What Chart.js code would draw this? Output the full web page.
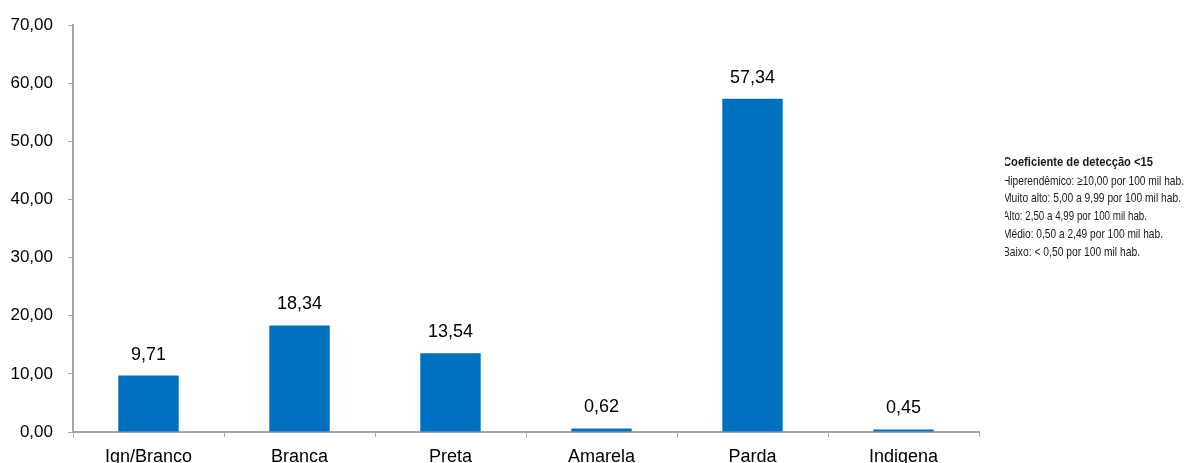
<!DOCTYPE html>
<html>
<head>
<meta charset="utf-8">
<script src="https://cdn.jsdelivr.net/npm/chart.js@4/dist/chart.umd.min.js"></script>
<style>
  html, body { margin: 0; padding: 0; background: #fff; }
  #wrap { width: 1184px; height: 463px; position: relative; }
</style>
</head>
<body>
<div id="wrap"><canvas id="c" width="1184" height="463"></canvas></div>
<script>
// Detection coefficient by race/colour
const categories = ['Ign/Branco', 'Branca', 'Preta', 'Amarela', 'Parda', 'Indigena'];
const values = [9.71, 18.34, 13.54, 0.62, 57.34, 0.45];
const yTicks = [0, 10, 20, 30, 40, 50, 60, 70];
const legendTitle = 'Coeficiente de detecção <15';
const legendLines = [
  'Hiperendêmico: ≥10,00 por 100 mil hab.',
  'Muito alto: 5,00 a 9,99 por 100 mil hab.',
  'Alto: 2,50 a 4,99 por 100 mil hab.',
  'Médio: 0,50 a 2,49 por 100 mil hab.',
  'Baixo: < 0,50 por 100 mil hab.'
];

const fmt = v => v.toFixed(2).replace('.', ',');
const AXIS = '#a6a6a6';
const FONT = 'Liberation Sans, Arial, sans-serif';

// value labels above each bar
const valueLabels = {
  id: 'valueLabels',
  afterDatasetsDraw(chart) {
    const ctx = chart.ctx;
    const meta = chart.getDatasetMeta(0);
    ctx.save();
    ctx.font = '18px ' + FONT;
    ctx.fillStyle = '#000';
    ctx.textAlign = 'center';
    ctx.textBaseline = 'middle';
    meta.data.forEach((bar, i) => {
      ctx.fillText(fmt(values[i]), bar.x, bar.y - 21);
    });
    ctx.restore();
  }
};

// classification note at the right
const noteBox = {
  id: 'noteBox',
  afterDraw(chart) {
    const ctx = chart.ctx;
    ctx.save();
    ctx.beginPath();
    ctx.rect(1005, 140, 179, 130);
    ctx.clip();
    ctx.fillStyle = '#1a1a1a';
    ctx.textBaseline = 'middle';
    ctx.textAlign = 'left';
    const x0 = 1003;
    const drawFit = (txt, y, font, w) => {
      ctx.font = font;
      const m = ctx.measureText(txt).width;
      ctx.save();
      ctx.translate(x0, y);
      ctx.scale(w / m, 1);
      ctx.fillText(txt, 0, 0);
      ctx.restore();
    };
    drawFit(legendTitle, 162, 'bold 13px ' + FONT, 150);
    const widths = [181, 178, 144, 160, 137];
    legendLines.forEach((t, i) => drawFit(t, 181 + i * 17.8, '13px ' + FONT, widths[i]));
    ctx.restore();
  }
};

new Chart(document.getElementById('c'), {
  type: 'bar',
  data: {
    labels: categories,
    datasets: [{
      data: values,
      backgroundColor: '#0070c0',
      borderWidth: 0,
      categoryPercentage: 1.0,
      barPercentage: 0.4
    }]
  },
  options: {
    responsive: false,
    animation: false,
    devicePixelRatio: 1,
    layout: { padding: { top: 22, right: 205, left: 0, bottom: 0 } },
    plugins: { legend: { display: false }, tooltip: { enabled: false } },
    scales: {
      x: {
        grid: { display: true, drawOnChartArea: false, tickLength: 5, color: AXIS, offset: true },
        border: { color: AXIS, width: 2 },
        ticks: { color: '#000', font: { size: 18, family: FONT }, padding: 9, maxRotation: 0 },
        afterFit(s) { s.height = 31; }
      },
      y: {
        min: 0, max: 70,
        afterBuildTicks(s) { s.ticks = yTicks.map(v => ({ value: v })); },
        grid: { display: true, drawOnChartArea: false, tickLength: 5, color: AXIS },
        border: { color: AXIS, width: 2 },
        ticks: { color: '#000', font: { size: 17, family: FONT }, padding: 15, callback: v => fmt(v) },
        afterFit(s) { s.width = 73; }
      }
    }
  },
  plugins: [valueLabels, noteBox]
});
</script>
</body>
</html>
